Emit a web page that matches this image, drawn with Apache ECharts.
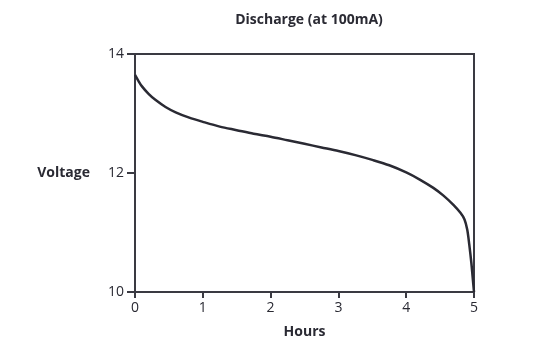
<!DOCTYPE html>
<html>
<head>
<meta charset="utf-8">
<script src="https://cdn.jsdelivr.net/npm/echarts@6/dist/echarts.min.js"></script>
<style>html,body{margin:0;padding:0;background:#fff;}#c{width:541px;height:355px;}</style>
</head>
<body>
<div id="c"></div>
<script>
var hours   = [0, 0.05, 0.1, 0.2, 0.3, 0.45, 0.6, 0.8, 1.0, 1.25, 1.5, 1.75, 2.0, 2.25, 2.5, 2.75, 3.0, 3.25, 3.5, 3.75, 4.0, 4.2, 4.4, 4.55, 4.7, 4.8, 4.86, 4.9, 4.93, 4.96, 4.98, 5.0];
var voltage = [13.65, 13.55, 13.46, 13.33, 13.23, 13.11, 13.02, 12.93, 12.86, 12.78, 12.72, 12.66, 12.61, 12.55, 12.49, 12.43, 12.37, 12.30, 12.22, 12.13, 12.01, 11.89, 11.75, 11.62, 11.46, 11.33, 11.22, 11.05, 10.8, 10.5, 10.25, 10.0];
var yTicks = [10, 12, 14];
var xTicks = [0, 1, 2, 3, 4, 5];
var titleText = 'Discharge (at 100mA)';
var yName = 'Voltage';
var xName = 'Hours';

var data = hours.map(function (h, i) { return [h, voltage[i]]; });
var FONT = 'Open Sans';
var chart = echarts.init(document.getElementById('c'));
chart.setOption({
  animation: false,
  title: {
    text: titleText, left: 304, top: 8, textAlign: 'center',
    textStyle: { fontFamily: FONT, fontSize: 14, fontWeight: 'bold', color: '#2a2a33' }
  },
  grid: { left: 135, right: 67, top: 54, bottom: 63, show: true, borderColor: '#3a3a42', borderWidth: 2, backgroundColor: 'transparent' },
  xAxis: {
    type: 'value', min: xTicks[0], max: xTicks[xTicks.length - 1], interval: 1,
    name: xName, nameLocation: 'middle', nameGap: 33,
    nameTextStyle: { fontFamily: FONT, fontSize: 14, fontWeight: 'bold', color: '#2a2a33' },
    axisLine: { show: true, lineStyle: { color: '#3a3a42', width: 2 } },
    axisTick: { show: true, length: 6, lineStyle: { color: '#3a3a42', width: 2 } },
    axisLabel: { margin: 9, fontFamily: FONT, fontSize: 14, color: '#2a2a33' },
    splitLine: { show: false }
  },
  yAxis: {
    type: 'value', min: yTicks[0], max: yTicks[yTicks.length - 1], interval: 2,
    name: yName, nameLocation: 'middle', nameRotate: 0, nameGap: 45,
    nameTextStyle: { fontFamily: FONT, fontSize: 14, fontWeight: 'bold', color: '#2a2a33', align: 'right' },
    axisLine: { show: true, lineStyle: { color: '#3a3a42', width: 2 } },
    axisTick: { show: true, length: 8, lineStyle: { color: '#3a3a42', width: 2 } },
    axisLabel: { margin: 11, fontFamily: FONT, fontSize: 14, color: '#2a2a33' },
    splitLine: { show: false }
  },
  series: [{
    type: 'line', data: data, showSymbol: false, smooth: 0.3,
    lineStyle: { color: '#2a2a33', width: 2.5 }
  }]
});
</script>
</body>
</html>
